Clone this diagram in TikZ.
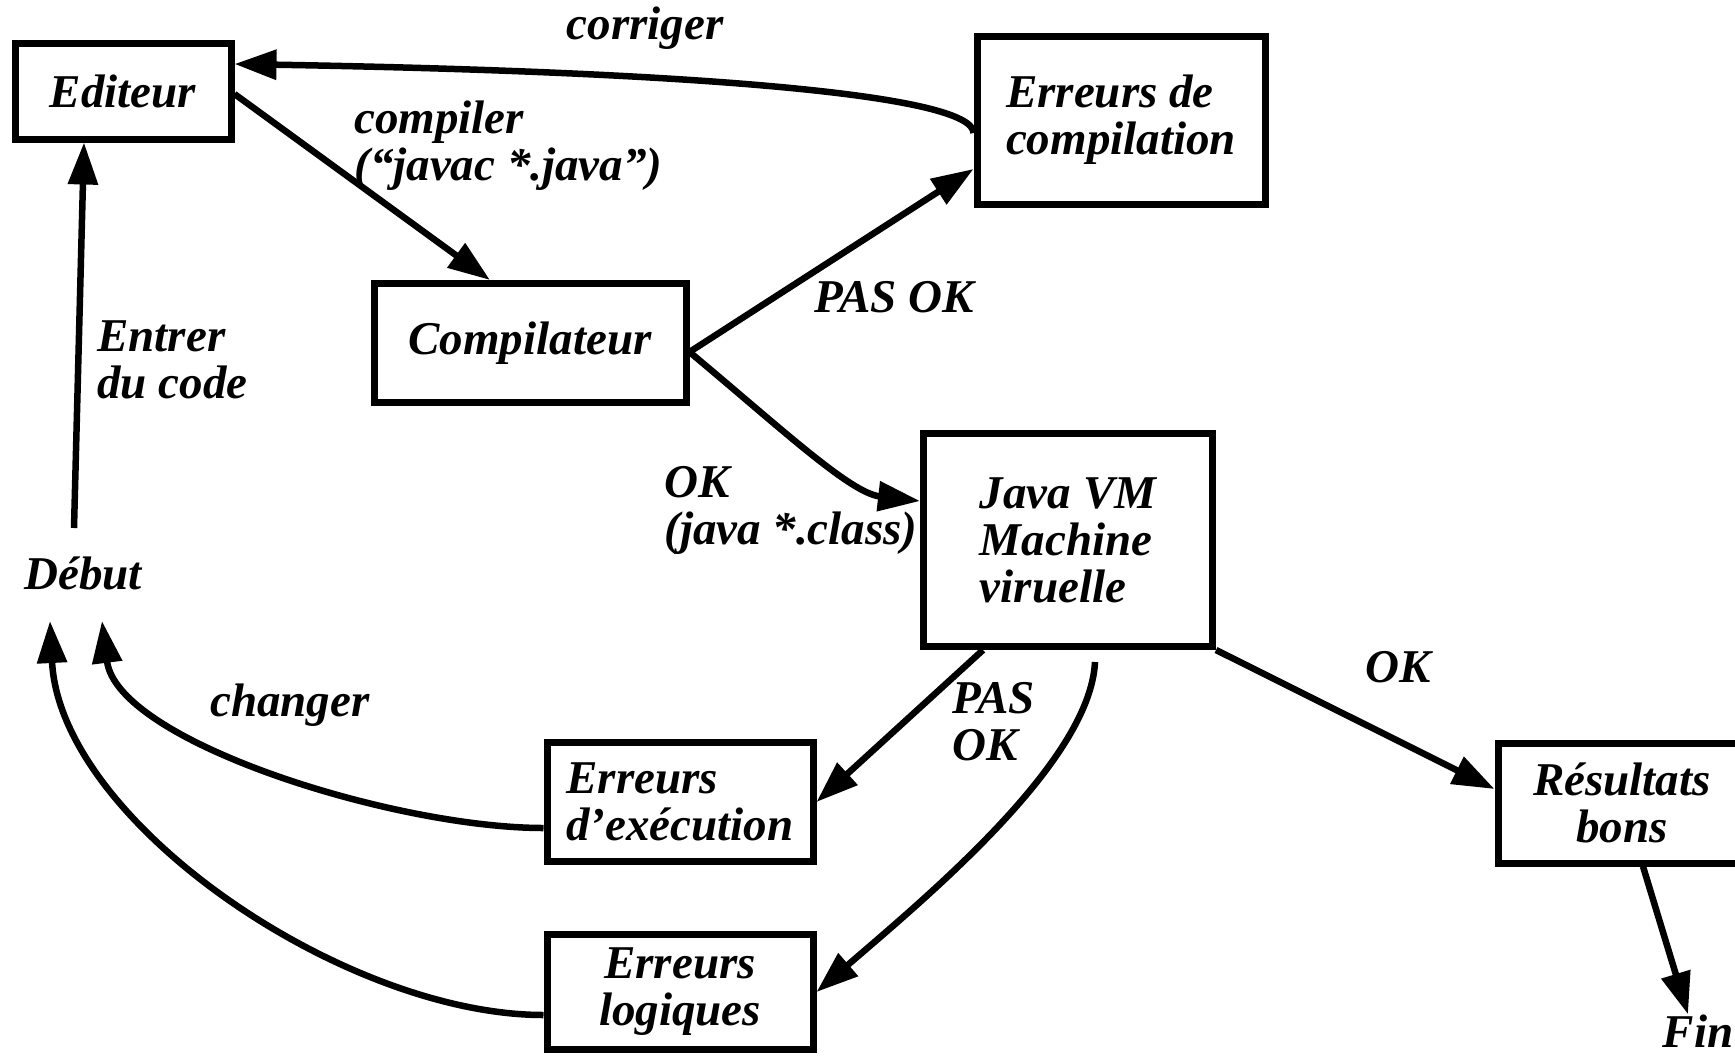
\documentclass[tikz,border=0pt]{standalone}
\usepackage{fontspec}
\setmainfont{Liberation Serif}
\usetikzlibrary{arrows.meta}

\begin{document}
\begin{tikzpicture}[x=0.5pt, y=-0.5pt,
        every node/.style={font=\bfseries\itshape\fontsize{23.5}{23.5}\selectfont},
        box/.style={draw, line width=3.5pt, align=left, inner sep=0pt},
        lbl/.style={align=left, inner sep=0pt},
        flow/.style={line width=3.25pt, -{Triangle[length=21pt,width=14.5pt]}}]
        \useasboundingbox (0,0) rectangle (1735,1055);
        
        % Boxes
        \node[box, minimum width=108pt, minimum height=48pt] (edit) at (123,91) {Editeur};
        \node[box, minimum width=156pt, minimum height=59.5pt] (comp) at (530,343) {Compilateur};
        \node[box, minimum width=144pt, minimum height=84pt] (errc) at (1121,120) {Erreurs de\\compilation};
        \node[box, minimum width=144.5pt, minimum height=106.5pt] (jvm) at (1068,540) {Java VM\\Machine\\viruelle};
        \node[box, minimum width=133pt, minimum height=59.5pt] (erre) at (680,802) {Erreurs\\d’exécution};
        \node[box, align=center, minimum width=133pt, minimum height=57.5pt] (errl) at (680,992) {Erreurs\\logiques};
        \node[box, align=center, minimum width=124pt, minimum height=60pt] (res) at (1622,803) {Résultats\\bons};
        
        % Start and end
        \node[lbl] (debut) at (83,573) {Début};
        \node[lbl] (fin) at (1698,1031) {Fin};
        
        % Arrows
        \draw[flow] ([xshift=-4.5pt,yshift=14pt]debut.north) -- ([xshift=-19.5pt]edit.south);
        \draw[flow] ([yshift=-1.5pt]edit.east) -- ([xshift=-20pt]comp.north);
        \draw[flow] ([yshift=-4.5pt]comp.east) -- ([yshift=-24.5pt]errc.west);
        \draw[flow] ([yshift=-6.5pt]errc.west) .. controls +(0,-38) and +(466,8) .. ([yshift=13.5pt]edit.east);
        \draw[flow] ([yshift=-4.5pt]comp.east) .. controls +(90,75) and +(-70,-8) .. ([yshift=19.5pt]jvm.west);
        \draw[flow] ([xshift=-42.5pt]jvm.south) -- (erre.east);
        \draw[flow] ([xshift=13.5pt,yshift=-6pt]jvm.south) .. controls +(-5,100) and +(110,-95) .. (errl.east);
        \draw[flow] (jvm.south east) -- ([yshift=7pt]res.west);
        \draw[flow] ([xshift=10.5pt]res.south) -- ([xshift=-5pt]fin.north);
        \draw[flow] ([yshift=-13pt]erre.west) .. controls +(-150,0) and +(15,120) .. ([xshift=9.5pt,yshift=-15.5pt]debut.south);
        \draw[flow] ([yshift=-11.5pt]errl.west) .. controls +(-200,0) and +(10,200) .. ([xshift=-16.5pt,yshift=-15.5pt]debut.south);
        
        % Labels
        \node[lbl] (lcorr) at (645,28) {corriger};
        \node[lbl, anchor=west] (lcomp) at (354,146) {compiler\\(“javac *.java”)};
        \node[lbl, anchor=west] (lentr) at (97,360) {Entrer\\du code};
        \node[lbl] (lpas1) at (894,297) {PAS OK};
        \node[lbl, anchor=west] (lok1) at (664,510) {OK\\(java *.class)};
        \node[lbl, anchor=west] (lpas2) at (952,722) {PAS\\OK};
        \node[lbl] (lok2) at (1398,667) {OK};
        \node[lbl] (lchg) at (290,705) {changer};
        
    \end{tikzpicture}
\end{document}
